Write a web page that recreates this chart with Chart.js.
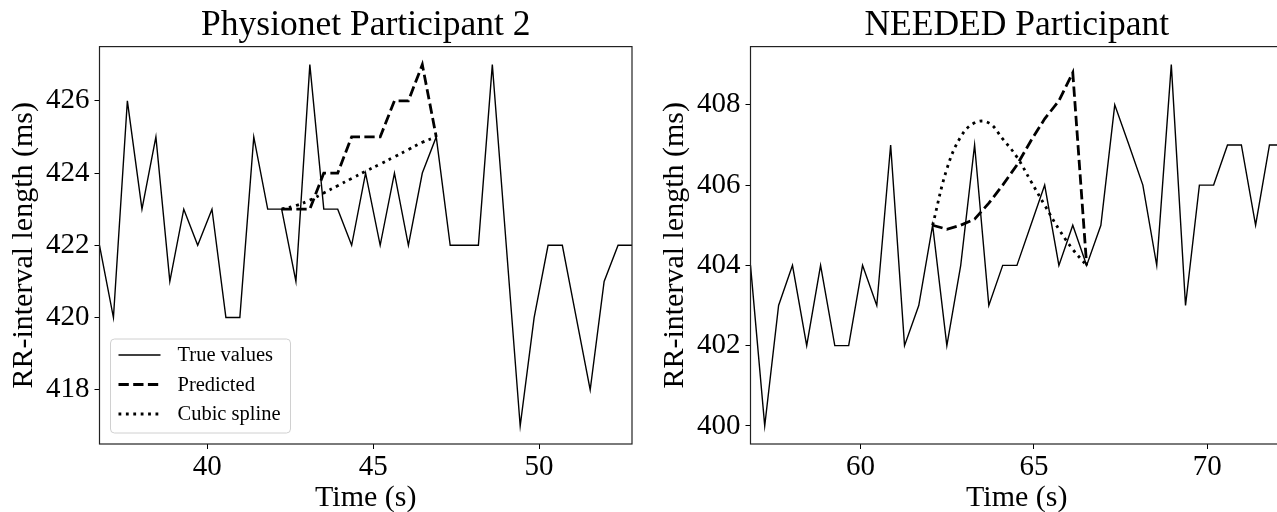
<!DOCTYPE html>
<html>
<head>
<meta charset="utf-8">
<script src="https://cdn.jsdelivr.net/npm/chart.js@4.4.1/dist/chart.umd.min.js"></script>
<style>
  html, body { margin: 0; padding: 0; background: #fff; overflow: hidden; }
  body { width: 1277px; height: 512px; position: relative; }
  canvas { position: absolute; top: 0; }
  #leftChart { left: 0; }
  #rightChart { left: 651px; }
</style>
</head>
<body>
<canvas id="leftChart" width="640" height="512"></canvas>
<canvas id="rightChart" width="640" height="512"></canvas>
<script>
// ---- Physionet participant 2 ----
const leftTime = [36.75, 37.17, 37.59, 38.03, 38.45, 38.87, 39.29, 39.71, 40.14, 40.56,
  40.98, 41.40, 41.82, 42.24, 42.67, 43.09, 43.51, 43.93, 44.35, 44.77,
  45.21, 45.64, 46.06, 46.48, 46.90, 47.32, 47.74, 48.17, 48.59, 49.01,
  49.43, 49.85, 50.27, 50.70, 51.12, 51.54, 51.96, 52.38, 52.80];
const leftTrue = [422, 420, 426, 423, 425, 421, 423, 422, 423, 420,
  420, 425, 423, 423, 421, 427, 423, 423, 422, 424,
  422, 424, 422, 424, 425, 422, 422, 422, 427, 422,
  417, 420, 422, 422, 420, 418, 421, 422, 422];
const leftGapTime = [42.24, 42.67, 43.09, 43.51, 43.93, 44.35, 44.77, 45.21, 45.64, 46.06, 46.48, 46.90];
const leftPredicted = [423, 423, 423, 424, 424, 425, 425, 425, 426, 426, 427, 425];
const leftSpline = [423.0, 423.1, 423.25, 423.45, 423.65, 423.85, 424.05, 424.25, 424.45, 424.65, 424.85, 425.0];
const leftXTicks = [40, 45, 50];
const leftYTicks = [418, 420, 422, 424, 426];

// ---- NEEDED participant ----
const rightTime = [56.83, 57.24, 57.64, 58.04, 58.45, 58.85, 59.26, 59.66, 60.06, 60.47,
  60.87, 61.27, 61.68, 62.08, 62.49, 62.89, 63.29, 63.70, 64.10, 64.51,
  64.91, 65.31, 65.72, 66.12, 66.52, 66.93, 67.33, 67.74, 68.14, 68.54,
  68.96, 69.37, 69.77, 70.18, 70.58, 70.98, 71.39, 71.79, 72.18];
const rightTrue = [404, 400, 403, 404, 402, 404, 402, 402, 404, 403,
  407, 402, 403, 405, 402, 404, 407, 403, 404, 404,
  405, 406, 404, 405, 404, 405, 408, 407, 406, 404,
  409, 403, 406, 406, 407, 407, 405, 407, 407];
const rightGapTime = [62.08, 62.49, 62.89, 63.29, 63.70, 64.10, 64.51, 64.91, 65.31, 65.72, 66.12, 66.52];
const rightPredicted = [405.0, 404.9, 405.0, 405.15, 405.55, 406.0, 406.5, 407.1, 407.65, 408.1, 408.8, 404.0];
const rightSpline = [405.0, 406.4, 407.2, 407.55, 407.55, 407.15, 406.7, 406.1, 405.5, 404.9, 404.4, 404.0];
const rightXTicks = [60, 65, 70];
const rightYTicks = [400, 402, 404, 406, 408];

const FONT = "'Liberation Serif', 'Times New Roman', serif";

function pts(xs, ys) {
  return xs.map((x, i) => ({ x: x, y: ys[i] }));
}

// black frame round the plot area
const framePlugin = {
  id: "frame",
  afterDatasetsDraw(chart) {
    const a = chart.chartArea;
    const ctx = chart.ctx;
    ctx.save();
    ctx.strokeStyle = "#222";
    ctx.lineWidth = 1.2;
    ctx.strokeRect(a.left, a.top, a.right - a.left, a.bottom - a.top);
    ctx.restore();
  }
};

// matplotlib-ish legend in the lower left corner
const cornerLegend = {
  id: "cornerLegend",
  afterDraw(chart, args, opts) {
    if (!opts.show) return;
    const a = chart.chartArea;
    const ctx = chart.ctx;
    const x = a.left + 11, y = a.bottom - 105, w = 180, h = 94;
    ctx.save();
    ctx.beginPath();
    ctx.roundRect(x, y, w, h, 4);
    ctx.fillStyle = "rgba(255,255,255,0.8)";
    ctx.fill();
    ctx.strokeStyle = "#d0d0d0";
    ctx.lineWidth = 1;
    ctx.stroke();
    ctx.font = "20.5px " + FONT;
    ctx.textBaseline = "middle";
    ctx.fillStyle = "#000";
    chart.data.datasets.forEach((ds, i) => {
      const ry = y + 16 + i * 29.5;
      ctx.beginPath();
      ctx.setLineDash(ds.borderDash || []);
      ctx.lineWidth = ds.borderWidth;
      ctx.strokeStyle = ds.borderColor;
      ctx.moveTo(x + 8, ry);
      ctx.lineTo(x + 50, ry);
      ctx.stroke();
      ctx.setLineDash([]);
      ctx.fillText(ds.label, x + 67, ry + 1);
    });
    ctx.restore();
  }
};

function makeChart(id, title, time, trueVals, gapTime, pred, spline, xMin, xMax, yMin, yMax, xTicks, yTicks, showLegend) {
  return new Chart(document.getElementById(id), {
    type: "line",
    data: {
      datasets: [
        {
          label: "True values",
          data: pts(time, trueVals),
          borderColor: "#000",
          borderWidth: 1.4,
          pointRadius: 0,
          tension: 0
        },
        {
          label: "Predicted",
          data: pts(gapTime, pred),
          borderColor: "#000",
          borderWidth: 2.8,
          borderDash: [10.3, 4.4],
          pointRadius: 0,
          tension: 0
        },
        {
          label: "Cubic spline",
          data: pts(gapTime, spline),
          borderColor: "#000",
          borderWidth: 2.8,
          borderDash: [2.8, 4.6],
          pointRadius: 0,
          tension: 0.4
        }
      ]
    },
    options: {
      responsive: false,
      animation: false,
      devicePixelRatio: 1,
      layout: { padding: { left: 0, right: 8, top: 0, bottom: 0 } },
      plugins: {
        legend: { display: false },
        tooltip: { enabled: false },
        title: {
          display: true,
          text: title,
          color: "#000",
          fullSize: false,
          font: { family: FONT, size: 35.5, weight: "normal" },
          padding: { top: 4, bottom: 0 }
        },
        cornerLegend: { show: showLegend }
      },
      scales: {
        x: {
          type: "linear",
          min: xMin,
          max: xMax,
          afterFit: s => { s.height = 68; },
          afterBuildTicks: s => { s.ticks = xTicks.map(v => ({ value: v })); },
          grid: { drawOnChartArea: false, drawTicks: true, tickLength: 5, tickColor: "#000", tickWidth: 1 },
          border: { display: false },
          ticks: { color: "#000", font: { family: FONT, size: 29 }, padding: 1, maxRotation: 0 },
          title: {
            display: true,
            text: "Time (s)",
            color: "#000",
            font: { family: FONT, size: 30, lineHeight: 0.95 },
            padding: { top: 0, bottom: 0 }
          }
        },
        y: {
          type: "linear",
          min: yMin,
          max: yMax,
          afterFit: s => { s.width = 99.5; },
          afterBuildTicks: s => { s.ticks = yTicks.map(v => ({ value: v })); },
          grid: { drawOnChartArea: false, drawTicks: true, tickLength: 5, tickColor: "#000", tickWidth: 1 },
          border: { display: false },
          ticks: { color: "#000", font: { family: FONT, size: 29 }, padding: 5 },
          title: {
            display: true,
            text: "RR-interval length (ms)",
            color: "#000",
            font: { family: FONT, size: 30, lineHeight: 1.2 },
            padding: { top: 6, bottom: 0 }
          }
        }
      }
    },
    plugins: [framePlugin, cornerLegend]
  });
}

makeChart("leftChart", "Physionet Participant 2", leftTime, leftTrue, leftGapTime, leftPredicted, leftSpline,
  36.75, 52.80, 416.5, 427.5, leftXTicks, leftYTicks, true);
makeChart("rightChart", "NEEDED Participant", rightTime, rightTrue, rightGapTime, rightPredicted, rightSpline,
  56.83, 72.18, 399.55, 409.45, rightXTicks, rightYTicks, false);
</script>
</body>
</html>
